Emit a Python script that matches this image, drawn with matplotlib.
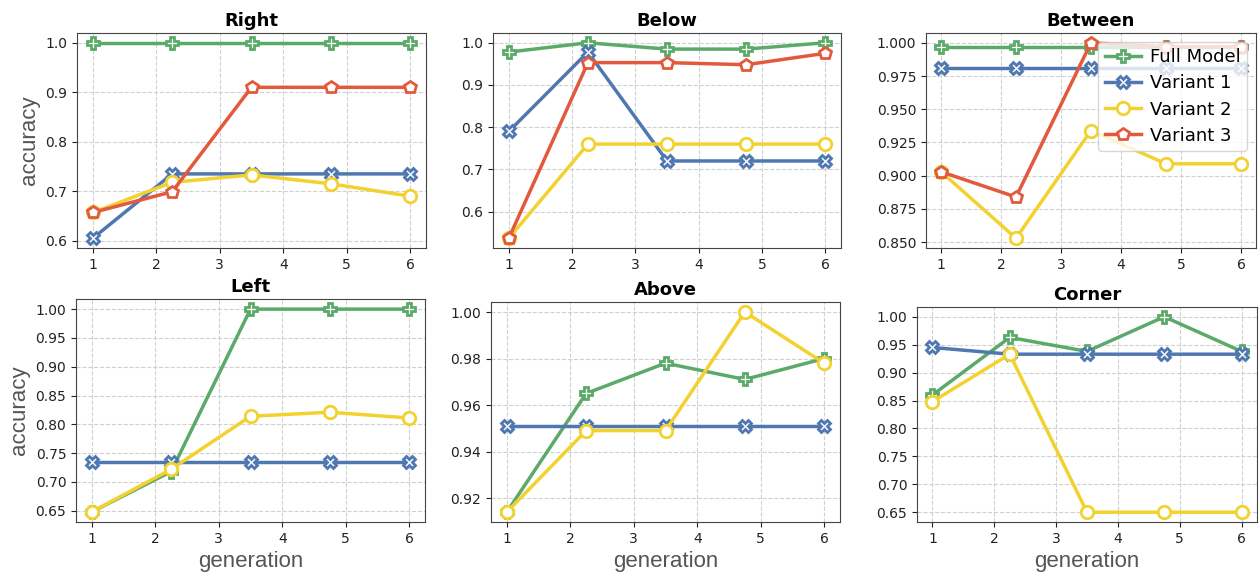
import matplotlib
matplotlib.use("Agg")
import matplotlib.pyplot as plt
from matplotlib.ticker import MultipleLocator

generations = [1, 2.25, 3.5, 4.75, 6]
series_names = ["Full Model", "Variant 1", "Variant 2", "Variant 3"]

right_full = [1.0, 1.0, 1.0, 1.0, 1.0]
right_v1 = [0.605, 0.735, 0.735, 0.735, 0.735]
right_v2 = [0.657, 0.718, 0.733, 0.715, 0.690]
right_v3 = [0.657, 0.699, 0.910, 0.910, 0.910]

below_full = [0.978, 1.0, 0.985, 0.985, 1.0]
below_v1 = [0.790, 0.978, 0.720, 0.720, 0.720]
below_v2 = [0.537, 0.760, 0.760, 0.760, 0.760]
below_v3 = [0.537, 0.953, 0.953, 0.948, 0.975]

between_full = [0.997, 0.997, 0.997, 0.997, 0.997]
between_v1 = [0.981, 0.981, 0.981, 0.981, 0.981]
between_v2 = [0.903, 0.853, 0.934, 0.909, 0.909]
between_v3 = [0.903, 0.884, 1.0, 0.997, 0.997]

left_full = [0.648, 0.718, 1.0, 1.0, 1.0]
left_v1 = [0.735, 0.735, 0.735, 0.735, 0.735]
left_v2 = [0.648, 0.722, 0.814, 0.821, 0.811]

above_full = [0.914, 0.965, 0.978, 0.971, 0.980]
above_v1 = [0.951, 0.951, 0.951, 0.951, 0.951]
above_v2 = [0.914, 0.949, 0.949, 1.0, 0.978]

corner_full = [0.860, 0.963, 0.938, 1.0, 0.938]
corner_v1 = [0.945, 0.933, 0.933, 0.933, 0.933]
corner_v2 = [0.848, 0.933, 0.650, 0.650, 0.650]

panels = [
    ("Right", [right_full, right_v1, right_v2, right_v3]),
    ("Below", [below_full, below_v1, below_v2, below_v3]),
    ("Between", [between_full, between_v1, between_v2, between_v3]),
    ("Left", [left_full, left_v1, left_v2, None]),
    ("Above", [above_full, above_v1, above_v2, None]),
    ("Corner", [corner_full, corner_v1, corner_v2, None]),
]

colors = ["#5BAA6A", "#5078B0", "#F2D230", "#E2593E"]
markers = ["P", "X", "o", "p"]

W, H = 1260, 580
# pixel boxes: left, top, right, bottom
boxes = [
    (77, 33, 426, 248), (493, 33, 841, 248), (926, 33, 1256, 248),
    (76, 299, 425, 522), (491, 302, 840, 522), (917, 307, 1257, 522),
]

fig = plt.figure(figsize=(12.6, 5.8), dpi=100)
label_font = dict(family=["Liberation Sans", "DejaVu Sans"], size=16, color="#555555")

for i, ((title, data), (l, t, r, b)) in enumerate(zip(panels, boxes)):
    ax = fig.add_axes([l / W, 1 - b / H, (r - l) / W, (b - t) / H])
    for j, vals in enumerate(data):
        if vals is None:
            continue
        ax.plot(generations, vals, color=colors[j], marker=markers[j],
                markersize=9, markerfacecolor="white", markeredgecolor=colors[j],
                markeredgewidth=2, linewidth=2.5, label=series_names[j])
    ax.set_title(title, fontsize=13, fontweight="bold", pad=5)
    ax.grid(True, linestyle="--", color="#d0d0d0", linewidth=0.8)
    ax.set_xticks([1, 2, 3, 4, 5, 6])
    if title == "Corner":
        ax.yaxis.set_major_locator(MultipleLocator(0.05))
    ax.tick_params(labelsize=10, colors="#222222")
    for s in ax.spines.values():
        s.set_color("#444444")
    if i % 3 == 0:
        ax.set_ylabel("accuracy", fontdict=label_font)
    if i >= 3:
        ax.set_xlabel("generation", fontdict=label_font)
    if title == "Between":
        ax.legend(loc="upper right", fontsize=13, framealpha=0.8,
                  borderpad=0.35, labelspacing=0.45, handletextpad=0.5,
                  handlelength=2.0, borderaxespad=0.5)

fig.savefig("out.png", dpi=100)
